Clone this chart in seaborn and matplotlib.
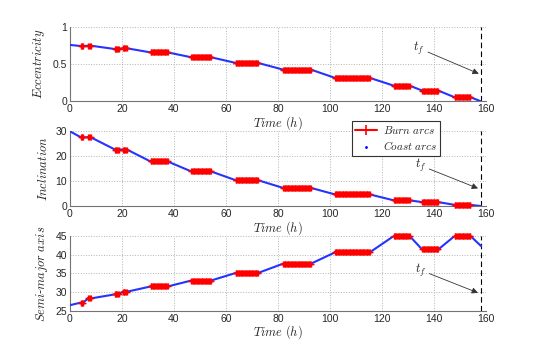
import numpy as np
import pandas as pd
import seaborn as sns
import matplotlib.pyplot as plt
from matplotlib.lines import Line2D

# burn arcs (h)
burn_start = [4.2, 7.1, 17.3, 20.3, 31.0, 46.7, 63.7, 82.0, 101.9, 124.6, 135.5, 148.0]
burn_end = [5.0, 8.0, 18.7, 21.9, 37.6, 54.3, 72.3, 92.7, 115.3, 130.7, 141.7, 154.1]
t_final = 158.2

# orbital elements held during each burn
ecc_burn = [0.74, 0.745, 0.70, 0.71, 0.655, 0.59, 0.515, 0.425, 0.315, 0.21, 0.145, 0.055]
inc_burn = [27.6, 27.6, 22.7, 22.7, 17.9, 13.9, 10.4, 7.3, 4.7, 2.3, 1.6, 0.5]
sma_burn = [27.2, 28.3, 29.4, 30.1, 31.5, 33.1, 35.1, 37.6, 40.6, 45.0, 41.4, 45.0]

# values at t=0 and at t_f
ecc_ends = [0.755, 0.0]
inc_ends = [30.0, 0.0]
sma_ends = [26.5, 42.3]

xticks = [0, 20, 40, 60, 80, 100, 120, 140, 160]

panels = [
    (r'$Eccentricity$', ecc_burn, ecc_ends, (0, 1), [0, 0.5, 1], ['0', '0.5', '1'],
     (136.5, 0.71), (157.3, 0.37)),
    (r'$Inclination$', inc_burn, inc_ends, (0, 30), [0, 10, 20, 30], ['0', '10', '20', '30'],
     (137.0, 16.3), (157.0, 7.1)),
    (r'$Semi$' + '-' + r'$major\ axis$', sma_burn, sma_ends, (25, 45), [25, 30, 35, 40, 45],
     ['25', '30', '35', '40', '45'], (137.0, 35.9), (157.0, 29.8)),
]

sns.set_style('white')
plt.rcParams['font.family'] = ['Liberation Sans', 'DejaVu Sans']
plt.rcParams['mathtext.fontset'] = 'cm'

fig, axes = plt.subplots(3, 1, figsize=(5.38, 3.5), dpi=100)
fig.subplots_adjust(left=0.13, right=0.903, top=0.924, bottom=0.112, hspace=0.40)

for ax, (label, burn_vals, ends, ylim, yticks, yticklabels, tail, head) in zip(axes, panels):
    # coast line through the whole transfer
    t_coast = [0.0]
    v_coast = [ends[0]]
    for s, e, v in zip(burn_start, burn_end, burn_vals):
        t_coast += [s, e]
        v_coast += [v, v]
    t_coast.append(t_final)
    v_coast.append(ends[1])
    coast = pd.DataFrame({'t': t_coast, 'v': v_coast})
    sns.lineplot(data=coast, x='t', y='v', color=(0.15, 0.2, 1.0), lw=1.5,
                 sort=False, ax=ax, zorder=3)

    # burn arcs, sampled for the + markers
    rows = []
    for i, (s, e, v) in enumerate(zip(burn_start, burn_end, burn_vals)):
        n = max(3, int(round((e - s) / 0.3)) + 1)
        for t in np.linspace(s, e, n):
            rows.append((i, t, v))
    burns = pd.DataFrame(rows, columns=['burn', 't', 'v'])
    sns.lineplot(data=burns, x='t', y='v', units='burn', estimator=None, color='red',
                 lw=1.5, marker='+', markersize=4.3, markeredgewidth=1.0,
                 markeredgecolor='red', markerfacecolor='red', ax=ax,
                 zorder=4, clip_on=False)

    ax.axvline(t_final, color='k', ls=(0, (5, 3)), lw=0.8, zorder=2)
    ax.annotate(r'$t_f$', xy=head, xytext=tail, ha='right', va='center', fontsize=9,
                arrowprops=dict(arrowstyle='-|>', color='0.2', lw=0.6,
                                mutation_scale=9, shrinkA=0, shrinkB=0))

    ax.set_xlim(0, 160)
    ax.set_ylim(*ylim)
    ax.set_xticks(xticks)
    ax.set_yticks(yticks)
    ax.set_yticklabels(yticklabels)
    ax.grid(True, ls=':', color='0.7', lw=0.7)
    ax.set_xlabel(r'$Time\ (h)$', fontsize=9, labelpad=0)
    ax.set_ylabel(label, fontsize=9, labelpad=4)
    ax.tick_params(direction='in', length=2.5, width=0.6, color='0.45', labelsize=7.5, pad=2)
    for side in ['top', 'right']:
        ax.spines[side].set_visible(False)
    for side in ['left', 'bottom']:
        ax.spines[side].set_color('0.45')
        ax.spines[side].set_linewidth(0.8)

handles = [Line2D([], [], color='red', lw=1.5, marker='+', markersize=7, markeredgewidth=1.2),
           Line2D([], [], color='blue', ls='none', marker='.', markersize=2)]
leg = fig.legend(handles, [r'$Burn\ arcs$', r'$Coast\ arcs$'], loc='upper left',
                 bbox_to_anchor=(0.654, 0.655), fontsize=8, fancybox=False,
                 framealpha=1, edgecolor='0.2', handlelength=2.0, borderpad=0.3,
                 labelspacing=0.3, handletextpad=0.5, borderaxespad=0)
leg.get_frame().set_linewidth(0.8)

fig.savefig('out.png', dpi=100)
